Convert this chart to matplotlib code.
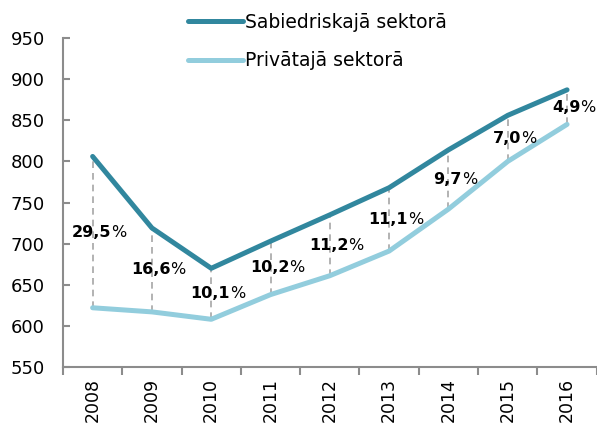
import matplotlib.pyplot as plt
import numpy as np

years = ["2008", "2009", "2010", "2011", "2012", "2013", "2014", "2015", "2016"]
public = [806, 719, 670, 703, 735, 768, 814, 856, 887]
private = [622, 617, 608, 638, 661, 691, 742, 800, 845]
gap_labels = ["29,5", "16,6", "10,1", "10,2", "11,2", "11,1", "9,7", "7,0", "4,9"]

c_pub = "#31879e"
c_priv = "#92cddd"
grey = "#8c8c8c"

fig = plt.figure(figsize=(5.97, 4.25), dpi=100)
ax = fig.add_axes([0.1055, 0.1365, 0.894, 0.774])
x = np.arange(len(years))

for i in x:
    ax.plot([i, i], [private[i], public[i]], color="#a6a6a6", lw=1.2,
            ls=(0, (4, 3)), zorder=1)

ax.plot(x, public, color=c_pub, lw=3.6, solid_capstyle="round", zorder=3,
        label="Sabiedriskajā sektorā")
ax.plot(x, private, color=c_priv, lw=3.6, solid_capstyle="round", zorder=2,
        label="Privātajā sektorā")

# bold number + regular percent sign, centred a little right of the year
for i, lab in enumerate(gap_labels):
    ymid = (public[i] + private[i]) / 2
    w = len(lab) * 7.6 + 10.5          # approx total width in points
    split = 3.5 + w / 2 - 10.5
    ax.annotate(lab, (i, ymid), xytext=(split, 0), textcoords="offset points",
                ha="right", va="center", fontsize=11.5, fontweight="bold",
                zorder=4)
    ax.annotate("%", (i, ymid), xytext=(split, 0), textcoords="offset points",
                ha="left", va="center", fontsize=11.5, zorder=4)

ax.set_xlim(-0.5, len(years) - 0.5)
ax.set_ylim(550, 950)
ax.set_yticks(range(550, 951, 50))
ax.set_xticks(x)
ax.set_xticklabels(years, rotation=90)
ax.set_xticks(np.arange(-0.5, len(years), 1), minor=True)
ax.tick_params(axis="x", which="major", length=0, labelsize=12.5, pad=8)
ax.tick_params(axis="x", which="minor", length=6, width=1.5, color=grey)
ax.tick_params(axis="y", direction="in", length=5, width=1.5, color=grey,
               labelsize=13, pad=13)

for s in ["top", "right"]:
    ax.spines[s].set_visible(False)
for s in ["left", "bottom"]:
    ax.spines[s].set_color(grey)
    ax.spines[s].set_linewidth(1.5)

fig.legend(loc="upper left", bbox_to_anchor=(0.287, 1.01), frameon=False,
           fontsize=13.5, handlelength=2.9, handletextpad=0.15, labelspacing=1.05)

fig.savefig("out.png", dpi=100)
